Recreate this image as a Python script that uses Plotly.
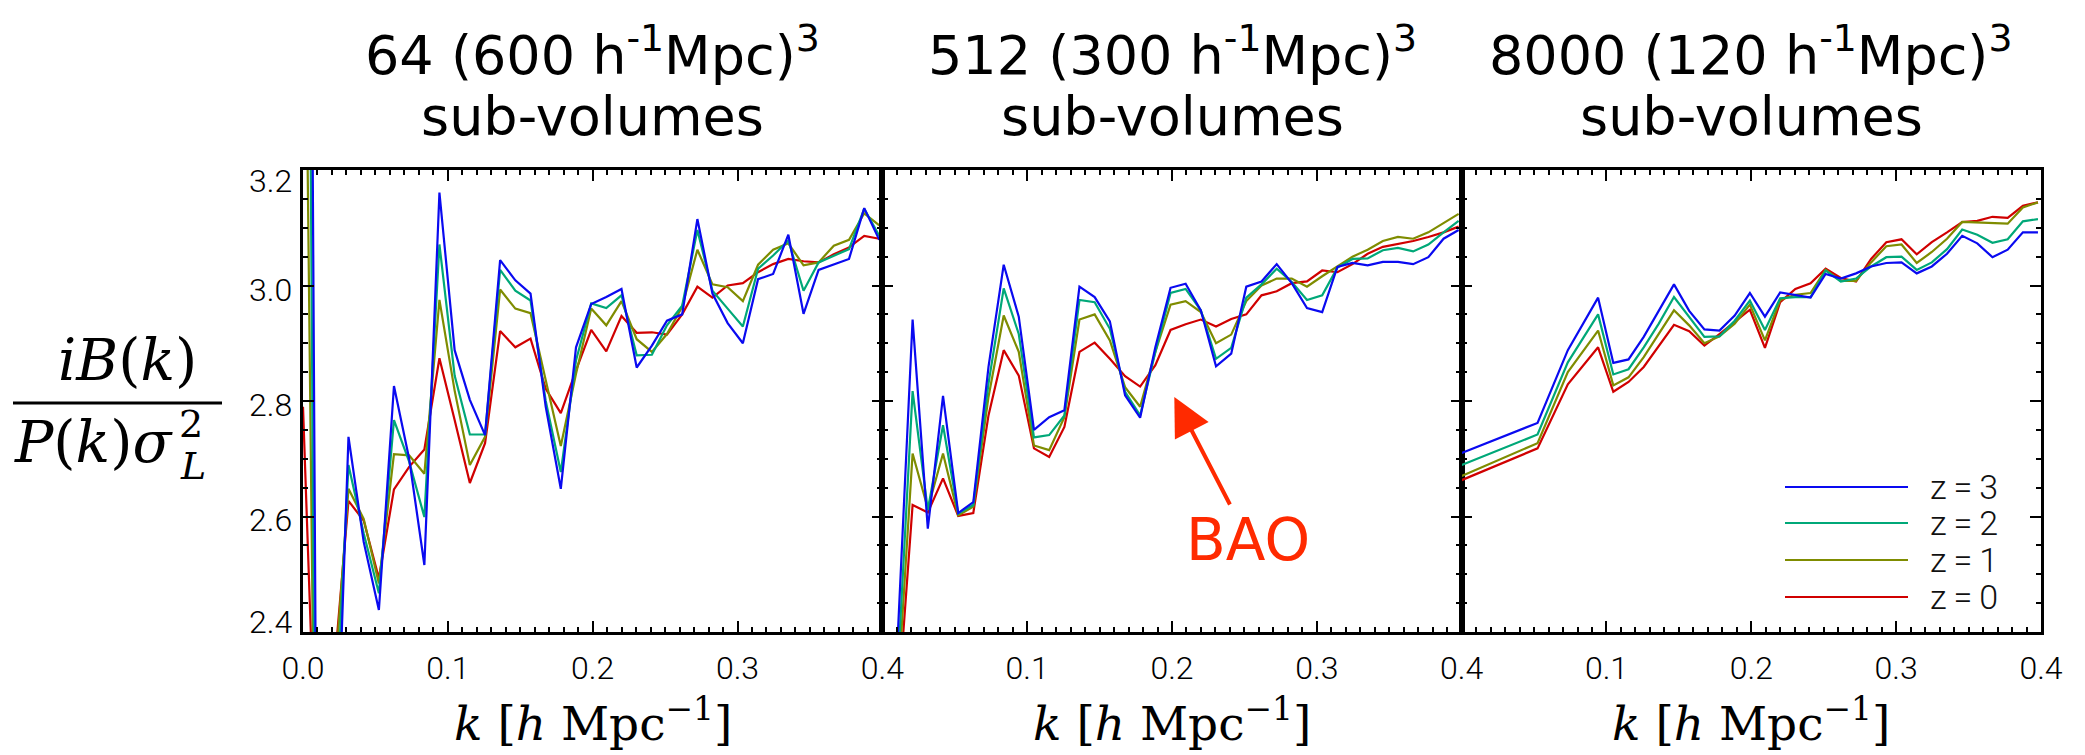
import plotly.graph_objects as go

# ---------------------------------------------------------------------------
# Wavenumber bins [h/Mpc]
# ---------------------------------------------------------------------------
k_64 = [0.0, 0.0105, 0.0209, 0.0314, 0.0419, 0.0524, 0.0628, 0.0733, 0.0838,
        0.0942, 0.1047, 0.1152, 0.1257, 0.1361, 0.1466, 0.1571, 0.1676, 0.1780,
        0.1885, 0.1990, 0.2094, 0.2199, 0.2304, 0.2409, 0.2513, 0.2618, 0.2723,
        0.2827, 0.2932, 0.3037, 0.3142, 0.3246, 0.3351, 0.3456, 0.3560, 0.3665,
        0.3770, 0.3875, 0.3979]

k_512 = [0.0105, 0.0209, 0.0314, 0.0419, 0.0524, 0.0628, 0.0733, 0.0838,
         0.0942, 0.1047, 0.1152, 0.1257, 0.1361, 0.1466, 0.1571, 0.1676, 0.1780,
         0.1885, 0.1990, 0.2094, 0.2199, 0.2304, 0.2409, 0.2513, 0.2618, 0.2723,
         0.2827, 0.2932, 0.3037, 0.3142, 0.3246, 0.3351, 0.3456, 0.3560, 0.3665,
         0.3770, 0.3875, 0.3979]

k_8000 = [0.0, 0.0524, 0.0733, 0.0942, 0.1047, 0.1152, 0.1257, 0.1361, 0.1466,
          0.1571, 0.1676, 0.1780, 0.1885, 0.1990, 0.2094, 0.2199, 0.2304, 0.2409,
          0.2513, 0.2618, 0.2723, 0.2827, 0.2932, 0.3037, 0.3142, 0.3246, 0.3351,
          0.3456, 0.3560, 0.3665, 0.3770, 0.3875, 0.3979]

# ---------------------------------------------------------------------------
# Normalised integrated bispectrum iB(k) / (P(k) sigma_L^2)
# ---------------------------------------------------------------------------
# 64 sub-volumes of (600 Mpc/h)^3
ib64_z0 = [2.79, 2.03, 2.316, 2.627, 2.593, 2.493, 2.647, 2.686, 2.716, 2.874,
           2.767, 2.658, 2.727, 2.921, 2.893, 2.908, 2.821, 2.779, 2.853, 2.923,
           2.886, 2.947, 2.918, 2.919, 2.915, 2.950, 2.998, 2.979, 3.000, 3.004,
           3.023, 3.037, 3.046, 3.042, 3.040, 3.054, 3.066, 3.086, 3.081]
ib64_z1 = [3.94, 1.54, 2.283, 2.648, 2.596, 2.484, 2.708, 2.706, 2.674, 2.975,
           2.818, 2.689, 2.738, 2.993, 2.960, 2.952, 2.836, 2.722, 2.847, 2.960,
           2.931, 2.973, 2.907, 2.885, 2.916, 2.963, 3.062, 3.002, 2.997, 2.973,
           3.036, 3.062, 3.073, 3.035, 3.040, 3.069, 3.079, 3.125, 3.104]
ib64_z2 = [5.2, 1.3, 2.164, 2.689, 2.571, 2.467, 2.767, 2.695, 2.599, 3.071,
           2.844, 2.742, 2.742, 3.027, 2.991, 2.974, 2.800, 2.677, 2.870, 2.969,
           2.961, 2.983, 2.879, 2.880, 2.931, 2.965, 3.096, 2.991, 2.960, 2.929,
           3.029, 3.052, 3.078, 2.991, 3.040, 3.052, 3.063, 3.133, 3.086]
ib64_z3 = [6.06, 1.6, 1.97, 2.738, 2.556, 2.438, 2.826, 2.700, 2.516, 3.161,
           2.888, 2.802, 2.741, 3.044, 3.009, 2.986, 2.790, 2.648, 2.893, 2.968,
           2.980, 2.994, 2.858, 2.896, 2.939, 2.950, 3.115, 2.986, 2.935, 2.900,
           3.011, 3.020, 3.088, 2.951, 3.027, 3.037, 3.046, 3.134, 3.079]

# 512 sub-volumes of (300 Mpc/h)^3
ib512_z0 = [2.262, 2.620, 2.607, 2.666, 2.601, 2.606, 2.775, 2.888, 2.844, 2.718,
            2.703, 2.755, 2.885, 2.901, 2.873, 2.843, 2.825, 2.862, 2.923, 2.933,
            2.941, 2.929, 2.942, 2.950, 2.983, 2.990, 3.004, 3.007, 3.026, 3.023,
            3.037, 3.055, 3.067, 3.072, 3.077, 3.084, 3.092, 3.102]
ib512_z1 = [2.292, 2.709, 2.614, 2.709, 2.602, 2.617, 2.807, 2.948, 2.885, 2.723,
            2.715, 2.772, 2.941, 2.950, 2.905, 2.824, 2.790, 2.885, 2.967, 2.973,
            2.954, 2.900, 2.915, 2.973, 3.000, 3.012, 3.012, 2.998, 3.016, 3.033,
            3.050, 3.062, 3.077, 3.084, 3.081, 3.092, 3.108, 3.124]
ib512_z2 = [2.326, 2.817, 2.611, 2.758, 2.605, 2.620, 2.830, 2.995, 2.916, 2.737,
            2.741, 2.775, 2.975, 2.971, 2.925, 2.816, 2.775, 2.885, 2.987, 2.994,
            2.957, 2.873, 2.892, 2.979, 3.002, 3.029, 3.006, 2.975, 2.983, 3.031,
            3.046, 3.047, 3.061, 3.065, 3.059, 3.071, 3.092, 3.112]
ib512_z3 = [2.385, 2.941, 2.579, 2.809, 2.606, 2.625, 2.859, 3.036, 2.946, 2.750,
            2.772, 2.784, 2.998, 2.980, 2.938, 2.810, 2.771, 2.893, 2.996, 3.003,
            2.957, 2.860, 2.882, 2.998, 3.007, 3.037, 3.004, 2.961, 2.954, 3.032,
            3.039, 3.035, 3.041, 3.041, 3.037, 3.049, 3.081, 3.096]

# 8000 sub-volumes of (120 Mpc/h)^3
ib8000_z0 = [2.663, 2.718, 2.829, 2.893, 2.816, 2.833, 2.859, 2.896, 2.932, 2.921,
             2.896, 2.916, 2.937, 2.958, 2.892, 2.971, 2.994, 3.004, 3.029, 3.013,
             3.007, 3.046, 3.075, 3.080, 3.054, 3.075, 3.092, 3.110, 3.112, 3.119,
             3.117, 3.138, 3.144]
ib8000_z1 = [2.670, 2.727, 2.850, 2.922, 2.827, 2.841, 2.876, 2.916, 2.957, 2.931,
             2.900, 2.912, 2.934, 2.967, 2.905, 2.975, 2.984, 2.987, 3.027, 3.008,
             3.008, 3.040, 3.068, 3.071, 3.039, 3.058, 3.081, 3.110, 3.109, 3.108,
             3.107, 3.135, 3.144]
ib8000_z2 = [2.689, 2.742, 2.867, 2.950, 2.846, 2.855, 2.893, 2.934, 2.980, 2.945,
             2.911, 2.912, 2.939, 2.974, 2.923, 2.978, 2.980, 2.980, 3.026, 3.007,
             3.012, 3.033, 3.049, 3.050, 3.027, 3.040, 3.063, 3.097, 3.088, 3.074,
             3.080, 3.111, 3.115]
ib8000_z3 = [2.710, 2.762, 2.888, 2.979, 2.866, 2.872, 2.911, 2.957, 3.002, 2.956,
             2.924, 2.922, 2.948, 2.987, 2.946, 2.988, 2.983, 2.979, 3.020, 3.012,
             3.021, 3.033, 3.039, 3.040, 3.021, 3.033, 3.055, 3.086, 3.073, 3.049,
             3.062, 3.092, 3.092]

panel_titles = ["64 (600 h<sup>-1</sup>Mpc)<sup>3</sup>",
                "512 (300 h<sup>-1</sup>Mpc)<sup>3</sup>",
                "8000 (120 h<sup>-1</sup>Mpc)<sup>3</sup>"]
redshift_labels = ["z=3", "z=2", "z=1", "z=0"]
line_colors = {"z=3": "#0A0AF0", "z=2": "#00A878", "z=1": "#7F8C00", "z=0": "#D00000"}

x_ticks_first = [0.0, 0.1, 0.2, 0.3, 0.4]
x_ticks_other = [0.1, 0.2, 0.3, 0.4]
y_ticks = [2.4, 2.6, 2.8, 3.0, 3.2]

panels = [
    (k_64, {"z=0": ib64_z0, "z=1": ib64_z1, "z=2": ib64_z2, "z=3": ib64_z3}),
    (k_512, {"z=0": ib512_z0, "z=1": ib512_z1, "z=2": ib512_z2, "z=3": ib512_z3}),
    (k_8000, {"z=0": ib8000_z0, "z=1": ib8000_z1, "z=2": ib8000_z2, "z=3": ib8000_z3}),
]

# ---------------------------------------------------------------------------
W, H = 2085, 755
ML, MR, MT, MB = 303, 44, 170, 123
PW, PH = W - ML - MR, H - MT - MB


def px(x):
    return (x - ML) / PW


def py(y):
    return (H - MB - y) / PH


fig = go.Figure()

for i, (k, series) in enumerate(panels):
    xa = "x" if i == 0 else f"x{i + 1}"
    ya = "y" if i == 0 else f"y{i + 1}"
    for z in ["z=0", "z=1", "z=2", "z=3"]:
        fig.add_trace(go.Scatter(
            x=k, y=series[z], mode="lines", name=z, xaxis=xa, yaxis=ya,
            line=dict(color=line_colors[z], width=2.2), showlegend=False,
        ))

tick_font = dict(family="Roboto", size=32, color="black", weight=300)
minor_x = [round(0.01 * j, 2) for j in range(41) if j % 10]
minor_y = [2.45, 2.5, 2.55, 2.65, 2.7, 2.75, 2.85, 2.9, 2.95, 3.05, 3.1, 3.15]

common_axis = dict(showline=True, linecolor="black", linewidth=2.5, mirror="allticks",
                   ticks="inside", ticklen=11, tickwidth=2, tickcolor="black",
                   showgrid=False, zeroline=False, tickfont=tick_font)

layout = dict(width=W, height=H, margin=dict(l=ML, r=MR, t=MT, b=MB),
              paper_bgcolor="white", plot_bgcolor="white", showlegend=False)

for i in range(3):
    sfx = "" if i == 0 else str(i + 1)
    tv = x_ticks_first if i == 0 else x_ticks_other
    layout["xaxis" + sfx] = dict(
        common_axis, domain=[i / 3, (i + 1) / 3], range=[0, 0.4],
        anchor="y" + sfx, tickmode="array", tickvals=tv,
        ticktext=[f"{v:.1f}" for v in tv], ticklabelstandoff=6,
        minor=dict(tickmode="array", tickvals=minor_x, ticks="inside",
                   ticklen=5.5, tickwidth=1.5, tickcolor="black"),
    )
    layout["yaxis" + sfx] = dict(
        common_axis, domain=[0, 1], range=[2.4, 3.2], anchor="x" + sfx,
        tickmode="array", tickvals=y_ticks, showticklabels=False,
        minor=dict(tickmode="array", tickvals=minor_y, ticks="inside",
                   ticklen=5.5, tickwidth=1.5, tickcolor="black"),
    )

fig.update_layout(**layout)

annotations = []
shapes = []

# y tick labels of the first panel (outer ones nudged inside the frame)
y_label_shift = {2.4: 10, 2.6: -3, 2.8: -4, 3.0: -4, 3.2: -11}
for v in y_ticks:
    annotations.append(dict(x=px(294), y=v, xref="paper", yref="y",
                            text=f"{v:.1f}", showarrow=False, font=tick_font,
                            xanchor="right", yanchor="middle",
                            yshift=y_label_shift[v]))

# panel headings
title_font = dict(family="DejaVu Sans", size=54, color="black")
for i, t in enumerate(panel_titles):
    cx = (i + 0.5) / 3
    annotations.append(dict(x=cx, y=py(51), xref="paper", yref="paper", text=t,
                            showarrow=False, font=title_font,
                            xanchor="center", yanchor="middle"))
    annotations.append(dict(x=cx, y=py(116), xref="paper", yref="paper",
                            text="sub-volumes", showarrow=False, font=title_font,
                            xanchor="center", yanchor="middle"))
    # k axis label
    annotations.append(dict(x=cx, y=py(720), xref="paper", yref="paper",
                            text="<i>k</i> [<i>h</i> Mpc<sup>−1</sup>]",
                            showarrow=False,
                            font=dict(family="DejaVu Serif", size=47, color="black"),
                            xanchor="center", yanchor="middle"))

# y axis label as a stacked fraction
serif = dict(family="DejaVu Serif", size=57, color="black")
annotations.append(dict(x=px(127), y=py(360), xref="paper", yref="paper",
                        text="<i>iB</i>(<i>k</i>)", showarrow=False, font=serif,
                        xanchor="center", yanchor="middle"))
shapes.append(dict(type="line", xref="paper", yref="paper",
                   x0=px(13), x1=px(222), y0=py(403), y1=py(403),
                   line=dict(color="black", width=3)))
annotations.append(dict(x=px(12), y=py(442), xref="paper", yref="paper",
                        text="<i>P</i>(<i>k</i>)<i>σ</i>", showarrow=False, font=serif,
                        xanchor="left", yanchor="middle"))
annotations.append(dict(x=px(191), y=py(424), xref="paper", yref="paper",
                        text="2", showarrow=False,
                        font=dict(family="DejaVu Serif", size=38, color="black"),
                        xanchor="center", yanchor="middle"))
annotations.append(dict(x=px(193), y=py(466), xref="paper", yref="paper",
                        text="<i>L</i>", showarrow=False,
                        font=dict(family="DejaVu Serif", size=38, color="black"),
                        xanchor="center", yanchor="middle"))

# redshift key
key_rows = [487, 523, 560, 597]
for z, yrow in zip(redshift_labels, key_rows):
    shapes.append(dict(type="line", xref="paper", yref="paper",
                       x0=px(1785), x1=px(1908), y0=py(yrow), y1=py(yrow),
                       line=dict(color=line_colors[z], width=2.2)))
    annotations.append(dict(x=px(1928), y=py(yrow), xref="paper", yref="paper",
                            text=z.replace("=", "\u2009=\u2009"), showarrow=False,
                            font=dict(family="Roboto", size=34, color="#111", weight=300),
                            xanchor="left", yanchor="middle"))

# BAO marker in the middle panel: label with an arrow pointing at the feature
bao_color = "#FF2A00"
annotations.append(dict(x=0.2016, y=2.807, xref="x2", yref="y2", text="BAO",
                        showarrow=True, ax=74, ay=143, axref="pixel", ayref="pixel",
                        arrowhead=2, arrowsize=1.9, arrowwidth=4,
                        arrowcolor=bao_color, standoff=0,
                        font=dict(family="DejaVu Sans", size=58, color=bao_color)))

fig.update_layout(annotations=annotations, shapes=shapes)

fig.write_html("out.html")
